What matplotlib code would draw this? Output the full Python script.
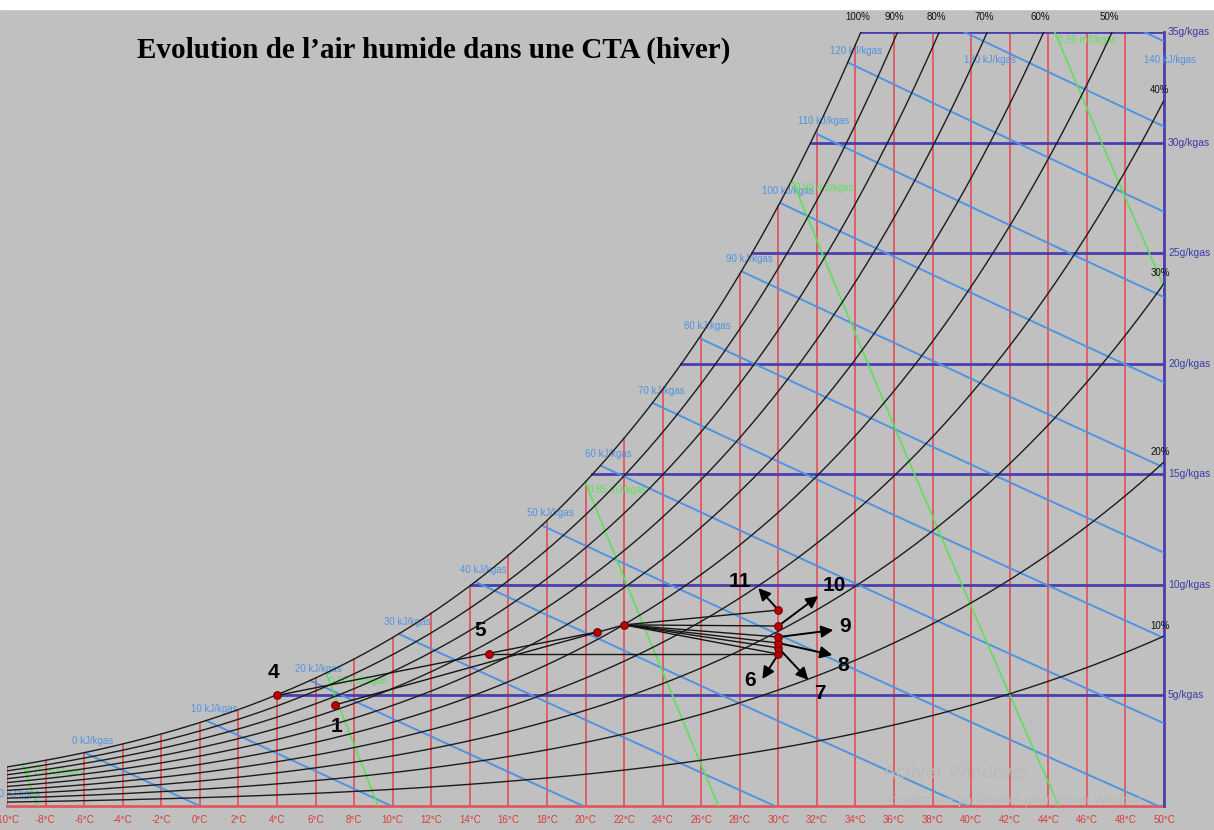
import numpy as np
import matplotlib
matplotlib.use('Agg')
import matplotlib.pyplot as plt
from matplotlib.transforms import offset_copy

# chart grid
P_ATM = 101.325
temps = list(range(-10, 51, 2))
w_levels = [5, 10, 15, 20, 25, 30, 35]
rh_levels = [10, 20, 30, 40, 50, 60, 70, 80, 90, 100]
h_levels = [-10, 0, 10, 20, 30, 40, 50, 60, 70, 80, 90, 100, 110, 120, 130, 140]
v_levels = [0.75, 0.80, 0.85, 0.90, 0.95]

# process points (T degC, w g/kg)
pt_names = ['1', '4', '5', 'M', 'Q', '6', '7', '8', '9', '10', '11']
pt_T = [7.0, 4.0, 15.0, 20.6, 22.0, 30.0, 30.0, 30.0, 30.0, 30.0, 30.0]
pt_w = [4.57, 5.0, 6.87, 7.87, 8.19, 6.87, 7.15, 7.37, 7.64, 8.14, 8.86]
segments = [(0, 4), (1, 3), (2, 5), (4, 5), (4, 6), (4, 7), (4, 8), (4, 9), (4, 10)]

TITLE = "Evolution de l\u2019air humide dans une CTA (hiver)"

BG = '#c0c0c0'
RED = '#e2585c'
NAVY = '#4a3fae'
BLUE = '#4f93e2'
GREEN = '#5ee05a'
SMALL = ['Liberation Sans Narrow', 'Liberation Sans']


def ws(T, phi=1.0):
    pw = phi * 0.61094 * np.exp(17.625 * T / (T + 243.04))
    return 622.0 * pw / (P_ATM - pw)


def tdew(w):
    pw = w * P_ATM / (622.0 + w)
    a = np.log(pw / 0.61094)
    return 243.04 * a / (17.625 - a)


fig = plt.figure(figsize=(12.14, 8.30), dpi=100, facecolor=BG)
fig.patches.append(plt.Rectangle((0, 1 - 9 / 830), 1, 9 / 830, transform=fig.transFigure,
                                 color='white', zorder=0))
ax = fig.add_axes([7 / 1214, 24 / 830, 1157 / 1214, 774 / 830])
ax.set_xlim(-10, 50)
ax.set_ylim(0, 35)
ax.axis('off')

def px(dx, dy):
    return offset_copy(ax.transData, fig=fig, x=dx, y=dy, units='dots')

# isotherms
for t in temps:
    top = min(ws(t), 35)
    ax.plot([t, t], [0, top], color=RED, lw=1.3, zorder=1)
    ax.text(t, 0, f'{t}\u00b0C', transform=px(0, -14), ha='center', va='center',
            fontsize=7, color='#e03838', family=SMALL, clip_on=False)
ax.plot([-10, 50], [0, 0], color=RED, lw=2, zorder=1, clip_on=False)

# humidity ratio lines
for w in w_levels:
    ax.plot([tdew(w), 50], [w, w], color=NAVY, lw=2, zorder=2)
    ax.text(50, w, f'{w}g/kgas', transform=px(4, 0), ha='left', va='center',
            fontsize=7.5, color='#3c3ca8', family=SMALL, clip_on=False)
ax.plot([50, 50], [0, 35], color=NAVY, lw=2, zorder=2, clip_on=False)

wgrid = np.linspace(0, 35, 3501)

# enthalpy lines
for h in h_levels:
    T = (h - 2.501 * wgrid) / (1.006 + 0.00186 * wgrid)
    ok = (T >= -10) & (T <= 50) & (wgrid <= ws(T) + 1e-9)
    if not ok.any():
        continue
    Ts, Ws = T[ok], wgrid[ok]
    ax.plot(Ts, Ws, color=BLUE, lw=1.4, zorder=3)
    i = np.argmax(Ws)
    off = (26, -28) if Ws[i] > 34.9 else (8, 12)
    ax.text(Ts[i], Ws[i], f'{h} kJ/kgas', transform=px(*off), ha='center', va='center',
            fontsize=7, color=BLUE, family=SMALL, clip_on=False)

# specific volume lines
for v in v_levels:
    T = v * P_ATM / (0.287042 * (1 + 0.0016078 * wgrid)) - 273.15
    ok = (T >= -10) & (T <= 50) & (wgrid <= ws(T) + 1e-9)
    Ts, Ws = T[ok], wgrid[ok]
    ax.plot(Ts, Ws, color=GREEN, lw=1.2, zorder=3)
    i = np.argmax(Ws)
    ax.text(Ts[i], Ws[i], f'{v:.2f} m3/kgas', transform=px(3, -3), ha='left', va='top',
            fontsize=7, color=GREEN, family=SMALL, clip_on=False)

# relative humidity curves
Tgrid = np.linspace(-10, 50, 1201)
for rh in rh_levels:
    w = ws(Tgrid, rh / 100)
    ax.plot(Tgrid, w, color='#1c1c1c', lw=1.0, zorder=4)
    if w[-1] <= 35:
        ax.text(50, w[-1], f'{rh}%', transform=px(-4, 10), ha='center', va='center',
                fontsize=7, color='#111111', family=SMALL, clip_on=False)
    else:
        tc = np.interp(35, w, Tgrid)
        ax.text(tc, 35, f'{rh}%', transform=px(-3, 15), ha='center', va='center',
                fontsize=7, color='#111111', family=SMALL, clip_on=False)

# process lines
for a, b in segments:
    ax.plot([pt_T[a], pt_T[b]], [pt_w[a], pt_w[b]], color='#151515', lw=1.0, zorder=5)
ax.plot(pt_T, pt_w, 'o', ms=5.5, color='#c00000', mec='#6a0000', mew=0.8, zorder=7)

# point labels
plain_labels = {'1': (2, -22), '4': (-4, 23), '5': (-9, 24)}
for name, (dx, dy) in plain_labels.items():
    k = pt_names.index(name)
    ax.annotate(name, xy=(pt_T[k], pt_w[k]), xytext=(dx, dy), textcoords='offset pixels',
                ha='center', va='center', fontsize=15, fontweight='bold', family='Liberation Sans')

# arrows: tip offset and label offset from tip (pixels)
arrow_tips = {'6': (-16, -25), '7': (30, -32), '8': (54, -12), '9': (55, 7), '10': (40, 30), '11': (-20, 22)}
arrow_lbls = {'6': (-12, -1), '7': (12, -14), '8': (11, -10), '9': (12, 4), '10': (16, 10), '11': (-19, 7)}
for name, (dx, dy) in arrow_tips.items():
    k = pt_names.index(name)
    ax.annotate('', xy=(pt_T[k], pt_w[k]), xycoords=px(dx, dy), xytext=(pt_T[k], pt_w[k]),
                textcoords='data',
                arrowprops=dict(arrowstyle='-|>', color='black', lw=1.4, mutation_scale=18,
                                shrinkA=0, shrinkB=0), zorder=6)
    lx, ly = arrow_lbls[name]
    ax.annotate(name, xy=(pt_T[k], pt_w[k]), xytext=(dx + lx, dy + ly), textcoords='offset pixels',
                ha='center', va='center', fontsize=15, fontweight='bold', family='Liberation Sans')

fig.text(137 / 1214, 1 - 50 / 830, TITLE, ha='left', va='center', fontsize=21,
         fontweight='bold', family='Liberation Serif')

fig.text(883 / 1214, 1 - 773 / 830, 'Activer Windows', ha='left', va='center', fontsize=14,
         color='#b9b9b9', family='Liberation Sans')
fig.text(883 / 1214, 1 - 801 / 830, 'Acc\u00e9dez aux param\u00e8tres pour activer Windows.',
         ha='left', va='center', fontsize=9, color='#b9b9b9', family='Liberation Sans')

fig.savefig('out.png', dpi=100, facecolor=BG)
